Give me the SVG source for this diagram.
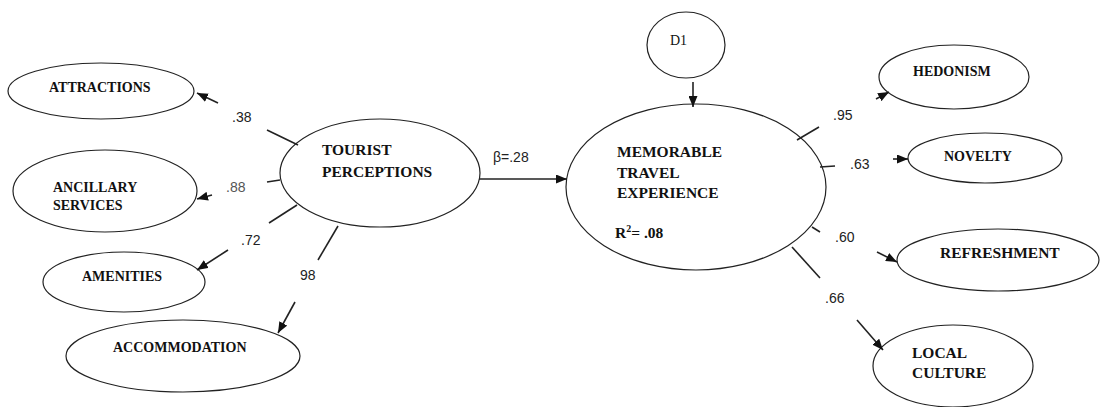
<svg xmlns="http://www.w3.org/2000/svg" width="1103" height="407" viewBox="0 0 1103 407">
<style>
.n{fill:#fff;stroke:#222;stroke-width:1.2}
.t{font-family:'Liberation Serif','Times New Roman','DejaVu Serif',serif;font-weight:bold;font-size:14px;fill:#111}
.tb{font-size:15.5px}
.d{font-family:'Liberation Serif','Times New Roman','DejaVu Serif',serif;font-size:14px;fill:#111}
.l{font-family:'Liberation Sans',Arial,sans-serif;font-size:14px;fill:#222}
.g{fill:#555}
.c line{stroke:#222;stroke-width:1.6}
.c .a{marker-end:url(#ah)}
</style>
<defs>
<marker id="ah" markerUnits="userSpaceOnUse" markerWidth="11" markerHeight="9" refX="11" refY="4.5" orient="auto">
<path d="M0,0 L11,4.5 L0,9 z" fill="#111"/>
</marker>
</defs>
<g id="attractions"><ellipse class="n" cx="101" cy="91" rx="93" ry="28"/><text class="t" x="49" y="92">ATTRACTIONS</text></g>
<g id="ancillary"><ellipse class="n" cx="105" cy="191" rx="92" ry="41"/><text class="t" x="53" y="192">ANCILLARY</text><text class="t" x="53" y="210">SERVICES</text></g>
<g id="amenities"><ellipse class="n" cx="124" cy="282" rx="81" ry="30"/><text class="t" x="82" y="281">AMENITIES</text></g>
<g id="accommodation"><ellipse class="n" cx="183" cy="356" rx="117" ry="36"/><text class="t" x="113" y="352">ACCOMMODATION</text></g>
<g id="tourist"><ellipse class="n" cx="380" cy="173" rx="100" ry="54"/><text class="t tb" x="322" y="155">TOURIST</text><text class="t tb" x="322" y="177">PERCEPTIONS</text></g>
<g id="d1"><ellipse class="n" cx="686" cy="45" rx="39" ry="33"/><text class="d" x="670" y="45">D1</text></g>
<g id="mte"><ellipse class="n" cx="696" cy="187" rx="130" ry="83"/><text class="t tb" x="617" y="157">MEMORABLE</text><text class="t tb" x="617" y="178">TRAVEL</text><text class="t tb" x="617" y="198">EXPERIENCE</text><text class="t tb" x="615" y="238">R<tspan font-size="10" dy="-6">2</tspan><tspan dy="6">= .08</tspan></text></g>
<g id="hedonism"><ellipse class="n" cx="954" cy="77" rx="75" ry="32"/><text class="t" x="913" y="76">HEDONISM</text></g>
<g id="novelty"><ellipse class="n" cx="985" cy="158" rx="77" ry="25"/><text class="t" x="944" y="161">NOVELTY</text></g>
<g id="refreshment"><ellipse class="n" cx="998" cy="260" rx="101" ry="31"/><text class="t tb" x="940" y="258">REFRESHMENT</text></g>
<g id="localculture"><ellipse class="n" cx="953" cy="366" rx="80" ry="41"/><text class="t tb" x="912" y="358">LOCAL</text><text class="t tb" x="912" y="378">CULTURE</text></g>
<g id="connectors" class="c">
<line x1="267" y1="130" x2="298" y2="145"/>
<line x1="267" y1="182" x2="280" y2="180"/>
<line x1="297" y1="205" x2="269" y2="223"/>
<line x1="338" y1="226" x2="318" y2="260"/>
<line x1="797" y1="140" x2="819" y2="127"/>
<line x1="820" y1="167" x2="835" y2="166"/>
<line x1="812" y1="227" x2="820" y2="232"/>
<line x1="792" y1="247" x2="820" y2="278"/>
<line class="a" x1="218" y1="103" x2="197" y2="93"/>
<line class="a" x1="212" y1="195" x2="197" y2="199"/>
<line class="a" x1="228" y1="250" x2="197" y2="270"/>
<line class="a" x1="295" y1="302" x2="278" y2="333"/>
<line class="a" x1="479" y1="179" x2="567" y2="179"/>
<line class="a" x1="693" y1="82" x2="693" y2="107"/>
<line class="a" x1="876" y1="99" x2="889" y2="92"/>
<line class="a" x1="893" y1="159" x2="908" y2="159"/>
<line class="a" x1="877" y1="252" x2="897" y2="262"/>
<line class="a" x1="857" y1="320" x2="883" y2="350"/>
</g>
<g id="labels">
<text class="l" x="232" y="122">.38</text>
<text class="l g" x="226" y="192">.88</text>
<text class="l" x="241" y="245">.72</text>
<text class="l" x="300" y="280">98</text>
<text class="l" x="493" y="162">β=.28</text>
<text class="l" x="833" y="120">.95</text>
<text class="l" x="850" y="169">.63</text>
<text class="l" x="835" y="242">.60</text>
<text class="l" x="825" y="303">.66</text>
</g>
</svg>
